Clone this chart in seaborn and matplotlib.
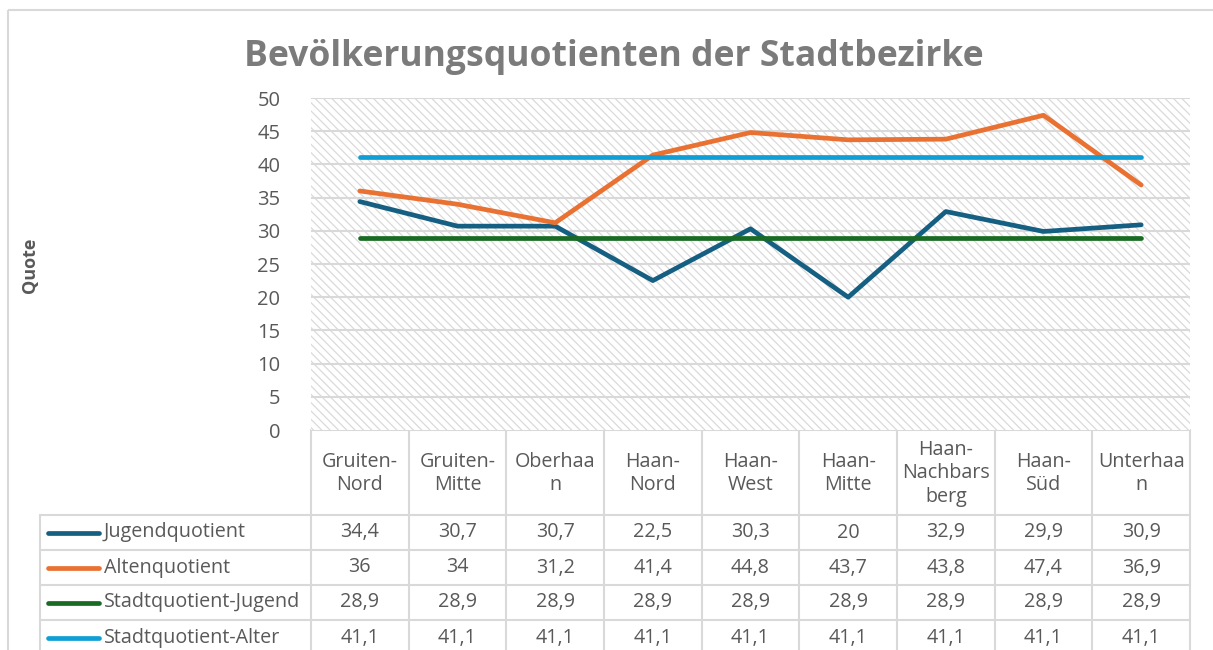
import numpy as np
import pandas as pd
import matplotlib
matplotlib.use("Agg")
import matplotlib.pyplot as plt
import matplotlib.transforms as mtransforms
from matplotlib.patches import Rectangle
import seaborn as sns

# data
bezirke = ["Gruiten-\nNord", "Gruiten-\nMitte", "Oberhaa\nn", "Haan-\nNord", "Haan-\nWest",
           "Haan-\nMitte", "Haan-\nNachbars\nberg", "Haan-\nSüd", "Unterhaa\nn"]
jugendquotient = [34.4, 30.7, 30.7, 22.5, 30.3, 20, 32.9, 29.9, 30.9]
altenquotient = [36, 34, 31.2, 41.4, 44.8, 43.7, 43.8, 47.4, 36.9]
stadt_jugend = [28.9] * 9
stadt_alter = [41.1] * 9

series_names = ["Jugendquotient", "Altenquotient", "Stadtquotient-Jugend", "Stadtquotient-Alter"]
series_vals = [jugendquotient, altenquotient, stadt_jugend, stadt_alter]
colors = ["#156082", "#E97132", "#196B24", "#0F9ED5"]
yticks = [0, 5, 10, 15, 20, 25, 30, 35, 40, 45, 50]

sns.set_theme(style="white")
plt.rcParams["font.family"] = ["Open Sans", "DejaVu Sans"]
txt = "#595959"
grid = "#d9d9d9"

W, H = 1213, 650
fig = plt.figure(figsize=(W / 100, H / 100), dpi=100)

def px(x0, y0, x1, y1):
    return [x0 / W, 1 - y1 / H, (x1 - x0) / W, (y1 - y0) / H]

# overlay in pixel coords for frame, table and labels
ov = fig.add_axes([0, 0, 1, 1], zorder=0)
ov.set_xlim(0, W)
ov.set_ylim(H, 0)
ov.axis("off")

PL, PR, PT, PB = 311, 1190, 98, 430
ax = fig.add_axes(px(PL, PT, PR, PB), zorder=1)
ax.patch.set_alpha(0)

# hatched plot area
plt.rcParams["hatch.linewidth"] = 0.9
ax.add_patch(Rectangle((0, 0), 1, 1, transform=ax.transAxes, facecolor="white",
                       edgecolor="#dadada", linewidth=0, hatch="\\\\\\\\", zorder=0))

df = pd.DataFrame({
    "x": np.tile(np.arange(len(bezirke)), len(series_names)),
    "wert": np.concatenate(series_vals),
    "serie": np.repeat(series_names, len(bezirke)),
})
for name, col in zip(series_names, colors):
    sub = df[df["serie"] == name]
    sns.lineplot(data=sub, x="x", y="wert", color=col, linewidth=3.4, ax=ax,
                 solid_capstyle="round", solid_joinstyle="round", zorder=3)

ax.set_xlim(-0.5, len(bezirke) - 0.5)
ax.set_ylim(0, 50)
ax.set_yticks(yticks)
ax.set_yticklabels([str(v) for v in yticks], fontsize=14.5, color=txt)
ax.set_xticks([])
ax.set_xlabel("")
ax.set_ylabel("")
ax.tick_params(axis="y", length=0, pad=22)
for v in yticks[1:]:
    ax.axhline(v, color=grid, linewidth=1.5, zorder=1)
for s in ax.spines.values():
    s.set_visible(False)

# outer chart frame
ov.add_patch(Rectangle((8, 10), W - 8 + 5, H, fill=False, edgecolor=grid, linewidth=1.5))

fig.text(614 / W, 1 - 57 / H, "Bevölkerungsquotienten der Stadtbezirke", ha="center", va="center",
         fontsize=25.6, fontweight="bold", color="#7b7b7b")
fig.text(30 / W, 1 - 265 / H, "Quote", rotation=90, ha="center", va="center",
         fontsize=13, fontweight="bold", color=txt)

# data table below the plot
tr = mtransforms.blended_transform_factory(ax.transData, ov.transData)
n = len(bezirke)
edges = np.arange(n + 1) - 0.5
row_edges = [515, 550, 585, 620, 655]
LX = 40
fs = 14.2

for e in edges:
    ov.plot([e, e], [PB, H + 5], transform=tr, color=grid, lw=1.5, clip_on=False)
ov.plot([LX, LX], [row_edges[0], H + 5], color=grid, lw=1.5)
ov.plot([-0.5, n - 0.5], [PB, PB], transform=tr, color=grid, lw=1.5)
for y in row_edges[:-1]:
    ov.plot([LX, PR], [y, y], color=grid, lw=1.5)

for i, b in enumerate(bezirke):
    ov.text(i, (PB + row_edges[0]) / 2 + 1, b, transform=tr, ha="center", va="center",
            fontsize=fs, color=txt, linespacing=1.25)

for r, (name, vals, col) in enumerate(zip(series_names, series_vals, colors)):
    yc = (row_edges[r] + row_edges[r + 1]) / 2
    ov.plot([48, 99], [yc, yc], color=col, lw=3.4, solid_capstyle="round")
    ov.text(104, yc, name, ha="left", va="center", fontsize=fs, color=txt)
    for i, v in enumerate(vals):
        s = f"{v:g}".replace(".", ",")
        ov.text(i, yc, s, transform=tr, ha="center", va="center", fontsize=fs, color=txt)

fig.savefig("out.png", dpi=100)
